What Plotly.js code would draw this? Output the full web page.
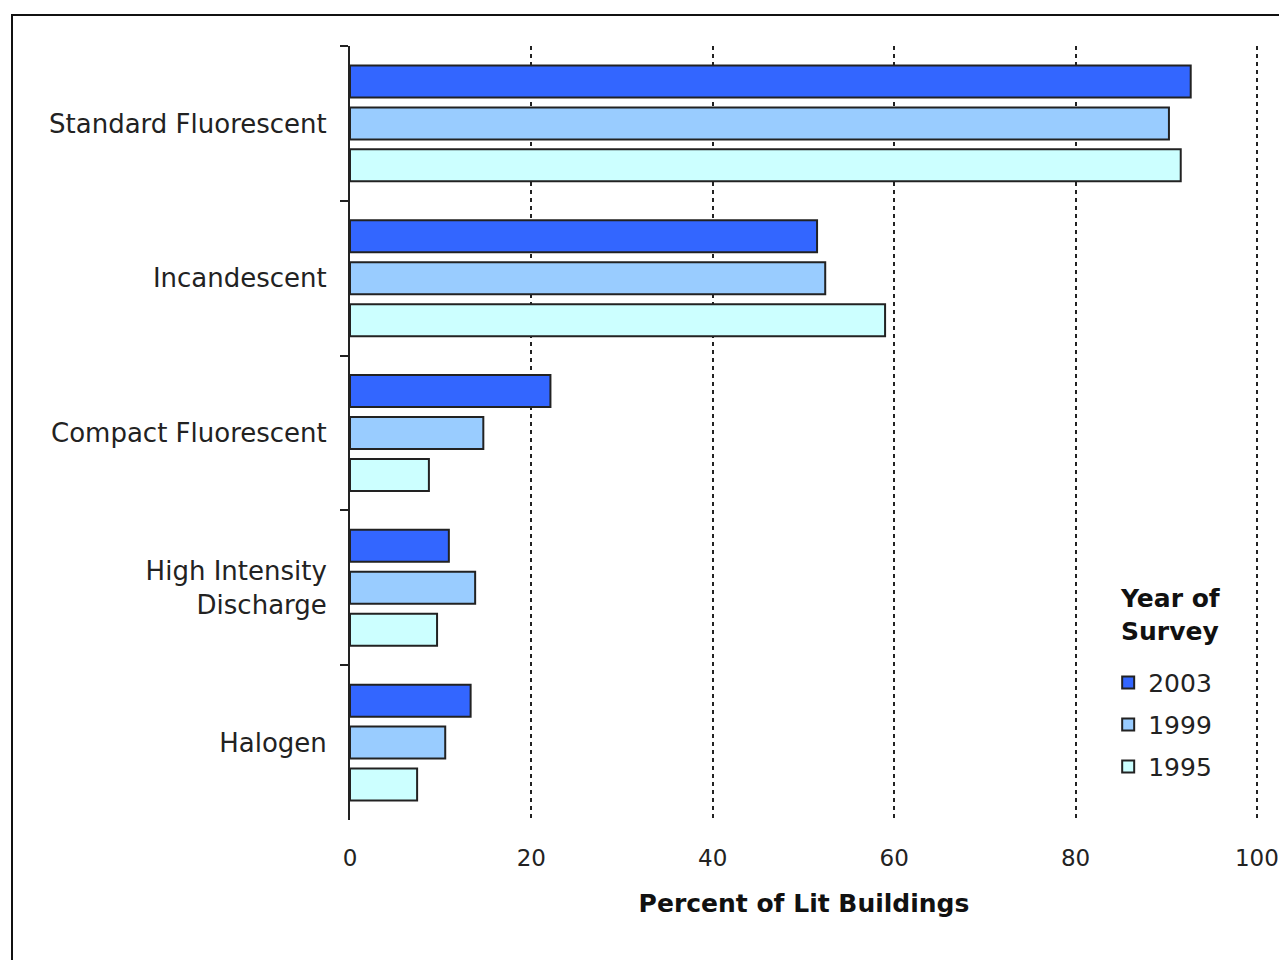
<!DOCTYPE html>
<html>
<head>
<meta charset="utf-8">
<script src="https://cdn.plot.ly/plotly-3.0.1.min.js"></script>
<style>
  html, body { margin: 0; padding: 0; background: #fff; }
  #wrap { position: relative; width: 1279px; height: 960px; overflow: hidden; }
  #frame { position: absolute; left: 11px; top: 14px; width: 1300px; height: 1000px;
           border-left: 2px solid #111; border-top: 2px solid #111; pointer-events: none; }
  #chart { position: absolute; left: 0; top: 0; width: 1279px; height: 960px; }
</style>
</head>
<body>
<div id="wrap">
  <div id="chart"></div>
  <div id="frame"></div>
</div>
<script>
// Lighting types in commercial buildings, by survey year
const lampTypes = ["Standard Fluorescent", "Incandescent", "Compact Fluorescent", "High Intensity<br>Discharge", "Halogen"];
const years = ["2003", "1999", "1995"];
const pct2003 = [92.7, 51.5, 22.1, 10.9, 13.3];
const pct1999 = [90.3, 52.4, 14.7, 13.8, 10.5];
const pct1995 = [91.6, 59.0, 8.7, 9.6, 7.4];
const xTicks = [0, 20, 40, 60, 80, 100];

const seriesValues = [pct2003, pct1999, pct1995];
const seriesColors = ["#3366FF", "#99CCFF", "#CCFFFF"];
const ink = "#222222";
const fontFamily = "'DejaVu Sans', Verdana, sans-serif";

const traces = years.map((yr, i) => ({
  type: "bar",
  orientation: "h",
  name: yr,
  legendgroup: yr,
  y: lampTypes,
  x: seriesValues[i],
  marker: { color: seriesColors[i], line: { color: ink, width: 2 } },
  hoverinfo: "x+name"
}));

const layout = {
  width: 1279,
  height: 960,
  paper_bgcolor: "#ffffff",
  plot_bgcolor: "#ffffff",
  font: { family: fontFamily, size: 23, color: ink },
  margin: { l: 350, r: 21, t: 46, b: 140, pad: 0 },
  barmode: "group",
  bargap: 0.187,
  bargroupgap: 0.238,
  showlegend: true,
  legend: {
    x: 0.835, y: 0.207, xanchor: "left", yanchor: "top",
    bgcolor: "rgba(255,255,255,0)",
    borderwidth: 0,
    tracegroupgap: 6.5,
    traceorder: "grouped",
    font: { size: 25, color: ink }
  },
  annotations: [{
    xref: "paper", yref: "paper",
    x: 0.904, y: 0.265, xanchor: "center", yanchor: "middle",
    text: "<b>Year of<br>Survey</b>",
    showarrow: false,
    align: "left",
    font: { size: 25, color: "#111" }
  }],
  xaxis: {
    range: [0, 100.12],
    tickvals: xTicks,
    ticktext: xTicks.map(String),
    showgrid: true,
    gridcolor: ink,
    gridwidth: 2,
    griddash: "4px,4px",
    zeroline: false,
    showline: false,
    ticks: "",
    ticklabelstandoff: 22,
    tickfont: { size: 23, color: ink },
    title: { text: "<b>Percent of Lit Buildings</b>", font: { size: 25, color: "#111" }, standoff: 24 },
    fixedrange: true
  },
  yaxis: {
    type: "category",
    autorange: "reversed",
    showline: true,
    linecolor: ink,
    linewidth: 2,
    ticks: "outside",
    tickson: "boundaries",
    ticklen: 8,
    tickwidth: 2,
    tickcolor: ink,
    showgrid: false,
    zeroline: false,
    ticklabelstandoff: 16,
    tickfont: { size: 26, color: ink },
    fixedrange: true
  }
};

Plotly.newPlot("chart", traces, layout, { displayModeBar: false, staticPlot: true });
</script>
</body>
</html>
